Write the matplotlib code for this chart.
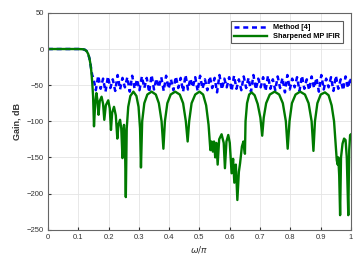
import matplotlib
matplotlib.use("Agg")
import matplotlib.pyplot as plt

plt.rcParams['font.family'] = ['Liberation Sans', 'DejaVu Sans']

# Method [4] (blue dashed): passband + equiripple stopband
blue_x = [0.0, 0.05, 0.10, 0.115, 0.122, 0.128, 0.133, 0.137, 0.140, 0.143, 0.146,
          0.150, 0.158, 0.166, 0.174, 0.182, 0.190, 0.198, 0.206, 0.214, 0.222,
          0.230, 0.238, 0.246, 0.254, 0.262, 0.270, 0.278, 0.286, 0.294, 0.302,
          0.310, 0.318, 0.326, 0.334, 0.342, 0.350, 0.358, 0.366, 0.374, 0.382,
          0.390, 0.398, 0.406, 0.414, 0.422, 0.430, 0.438, 0.446, 0.454, 0.462,
          0.470, 0.478, 0.486, 0.494, 0.502, 0.510, 0.518, 0.526, 0.534, 0.542,
          0.550, 0.558, 0.566, 0.574, 0.582, 0.590, 0.598, 0.606, 0.614, 0.622,
          0.630, 0.638, 0.646, 0.654, 0.662, 0.670, 0.678, 0.686, 0.694, 0.702,
          0.710, 0.718, 0.726, 0.734, 0.742, 0.750, 0.758, 0.766, 0.774, 0.782,
          0.790, 0.798, 0.806, 0.814, 0.822, 0.830, 0.838, 0.846, 0.854, 0.862,
          0.870, 0.878, 0.886, 0.894, 0.902, 0.910, 0.918, 0.926, 0.934, 0.942,
          0.950, 0.958, 0.966, 0.974, 0.982, 0.990, 0.998, 1.000]
blue_y = [0, 0, 0, -0.3, -1, -3, -7, -13, -20, -28, -36,
          -40, -57, -37, -55, -41, -59, -38, -54, -42, -58,
          -36, -56, -40, -53, -39, -59, -37, -55, -42, -57,
          -38, -54, -40, -60, -36, -56, -41, -53, -39, -58,
          -37, -55, -42, -57, -38, -54, -40, -59, -36, -56,
          -41, -53, -39, -58, -37, -55, -42, -57, -38, -54,
          -40, -60, -36, -56, -41, -53, -39, -58, -37, -55,
          -42, -57, -38, -54, -40, -59, -36, -56, -41, -53,
          -39, -58, -37, -55, -42, -57, -38, -54, -40, -60,
          -36, -56, -41, -53, -39, -58, -37, -55, -42, -57,
          -38, -54, -40, -59, -36, -56, -41, -53, -39, -58,
          -37, -55, -42, -57, -38, -54, -40, -47]

# Sharpened MP IFIR (green solid)
green_x = [0.0, 0.05, 0.10, 0.115, 0.122, 0.128, 0.133, 0.137, 0.140, 0.143, 0.146, 0.149, 0.152,
           0.156, 0.160, 0.163, 0.167, 0.171, 0.177, 0.182, 0.186, 0.191, 0.199, 0.204, 0.208,
           0.212, 0.218, 0.224, 0.229, 0.233, 0.238, 0.242, 0.246, 0.249, 0.251, 0.254, 0.257,
           0.260, 0.265, 0.272, 0.282, 0.292, 0.299, 0.304, 0.307,
           0.311, 0.318, 0.328, 0.342, 0.356, 0.366, 0.375, 0.381,
           0.386, 0.394, 0.405, 0.420, 0.435, 0.446, 0.455, 0.461,
           0.466, 0.474, 0.486, 0.500, 0.512, 0.522, 0.530, 0.536,
           0.540, 0.544, 0.548, 0.552, 0.556, 0.560, 0.565, 0.573, 0.580, 0.584, 0.589, 0.595,
           0.600, 0.606, 0.611, 0.615, 0.620, 0.625, 0.630, 0.634, 0.640, 0.645, 0.650,
           0.652, 0.657, 0.664, 0.672, 0.682, 0.692, 0.701, 0.707,
           0.712, 0.720, 0.732, 0.748, 0.763, 0.775, 0.785, 0.791,
           0.797, 0.805, 0.817, 0.832, 0.848, 0.860, 0.870, 0.876,
           0.881, 0.889, 0.900, 0.914, 0.926, 0.936, 0.944, 0.950, 0.953,
           0.956, 0.958, 0.961, 0.964, 0.967, 0.972, 0.977, 0.982, 0.986, 0.991, 0.994, 0.997, 1.000]
green_y = [0, 0, 0, -0.3, -1, -3, -7, -13, -20, -30, -45, -65, -107,
           -75, -61, -70, -91, -72, -66, -76, -98, -78, -71, -82, -112,
           -88, -80, -92, -124, -104, -98, -110, -151, -112, -105, -125, -205,
           -110, -80, -65, -59, -65, -80, -110, -164,
           -100, -75, -63, -59, -63, -75, -100, -138,
           -100, -75, -63, -59, -63, -75, -100, -128,
           -100, -75, -63, -59, -63, -78, -105, -140,
           -128, -142, -128, -150, -130, -160, -125, -118, -130, -165, -128, -119,
           -130, -172, -152, -185, -160, -209, -170, -158, -135, -128, -145,
           -100, -75, -63, -60, -64, -76, -95, -120,
           -95, -75, -63, -59, -63, -75, -100, -138,
           -100, -75, -63, -59, -63, -75, -100, -141,
           -100, -75, -63, -60, -64, -78, -100, -135, -154,
           -160, -150, -175, -230, -150, -131, -124, -126, -150, -230, -140, -119, -118]

xticks = [0, 0.1, 0.2, 0.3, 0.4, 0.5, 0.6, 0.7, 0.8, 0.9, 1]
xticklabels = ['0', '0.1', '0.2', '0.3', '0.4', '0.5', '0.6', '0.7', '0.8', '0.9', '1']
yticks = [50, 0, -50, -100, -150, -200, -250]

fig = plt.figure(figsize=(3.63, 2.58), dpi=100)
ax = fig.add_axes([0.132, 0.110, 0.835, 0.840])

ax.plot(blue_x, blue_y, color='#0000ff', linestyle=(0, (2.0, 1.5)), linewidth=1.8,
        label='Method [4]')
ax.plot(green_x, green_y, color='#007a00', linewidth=1.7, label='Sharpened MP IFIR')

ax.set_xlim(0, 1)
ax.set_ylim(-250, 50)
ax.set_xticks(xticks)
ax.set_xticklabels(xticklabels)
ax.set_yticks(yticks)
ax.grid(True, color='#e4e4e4', linewidth=0.6)
ax.set_axisbelow(True)
ax.tick_params(labelsize=5.5, length=2, direction='in', colors='#333333', pad=3)
for s in ax.spines.values():
    s.set_color('#666666')
    s.set_linewidth(0.8)

ax.set_xlabel(r'$\omega/\pi$', fontsize=6.5, color='#333333', labelpad=2)
ax.set_ylabel('Gain, dB', fontsize=6.5, color='#333333', fontweight='bold', labelpad=4)

leg = ax.legend(loc='upper right', prop={'weight': 'bold', 'size': 5.3},
                fancybox=False, edgecolor='#333333', handlelength=4.5,
                borderaxespad=1.1, labelspacing=0.3)
leg.get_frame().set_linewidth(0.8)

fig.savefig('out.png', dpi=100)
